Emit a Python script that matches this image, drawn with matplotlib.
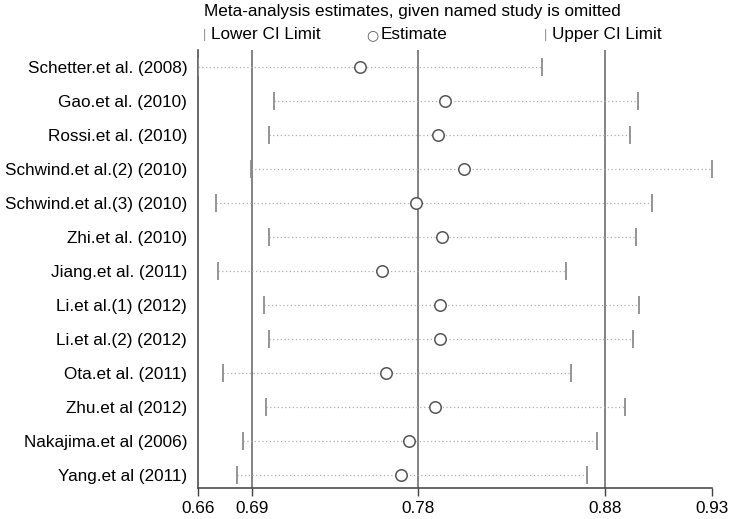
import matplotlib
matplotlib.use("Agg")
import matplotlib.pyplot as plt

plt.rcParams['font.family'] = ['Liberation Sans', 'DejaVu Sans']

# study omitted, pooled estimate and CI with that study left out
studies = ['Schetter.et al. (2008)', 'Gao.et al. (2010)', 'Rossi.et al. (2010)',
           'Schwind.et al.(2) (2010)', 'Schwind.et al.(3) (2010)', 'Zhi.et al. (2010)',
           'Jiang.et al. (2011)', 'Li.et al.(1) (2012)', 'Li.et al.(2) (2012)',
           'Ota.et al. (2011)', 'Zhu.et al (2012)', 'Nakajima.et al (2006)',
           'Yang.et al (2011)']
lower = [0.6570, 0.6979, 0.6949, 0.6853, 0.6664, 0.6953, 0.6676,
         0.6922, 0.6953, 0.6702, 0.6935, 0.6813, 0.6777]
estimate = [0.7438, 0.7896, 0.7861, 0.7998, 0.7742, 0.7879, 0.7557,
            0.7868, 0.7868, 0.7581, 0.7842, 0.7705, 0.7661]
upper = [0.8418, 0.8933, 0.8892, 0.9332, 0.9012, 0.8924, 0.8548,
         0.8942, 0.8907, 0.8577, 0.8864, 0.8713, 0.8663]

# overall estimate and CI (all studies)
overall = [0.6859, 0.7751, 0.8756]
tick_vals = [0.6570, 0.6859, 0.7751, 0.8756, 0.9332]
tick_labels = ['0.66', '0.69', '0.78', '0.88', '0.93']

fig = plt.figure(figsize=(7.38, 5.19), dpi=100)
ax = fig.add_axes([0.2687, 0.0592, 0.9644 - 0.2687, 0.9037 - 0.0592])

rows = list(range(1, len(studies) + 1))
grey = '#8c8c8c'
fs = 12.3

for v in overall:
    ax.axvline(v, color='#6e6e6e', lw=1.2, zorder=1)

for y, lo, est, up in zip(rows, lower, estimate, upper):
    ax.plot([lo, up], [y, y], color='#b0b0b0', lw=0.9, ls=(0, (1, 2)), zorder=2)
ax.scatter(lower, rows, marker='|', s=170, color=grey, lw=1.3, zorder=3)
ax.scatter(upper, rows, marker='|', s=170, color=grey, lw=1.3, zorder=3)
ax.scatter(estimate, rows, marker='o', s=68, facecolor='white',
           edgecolor='#555555', lw=1.1, zorder=4)

ax.set_xlim(tick_vals[0], tick_vals[-1])
ax.set_ylim(13.4, 0.49)
ax.set_xticks(tick_vals)
ax.set_xticklabels(tick_labels, fontsize=fs)
ax.set_yticks(rows)
ax.set_yticklabels(studies, fontsize=fs)
ax.tick_params(axis='y', length=0, pad=8)
ax.tick_params(axis='x', length=6, width=1, color='#404040', pad=3)
for s in ['top', 'right']:
    ax.spines[s].set_visible(False)
for s in ['left', 'bottom']:
    ax.spines[s].set_color('#404040')
    ax.spines[s].set_linewidth(1.1)

fig.text(0.276, 0.977, 'Meta-analysis estimates, given named study is omitted',
         fontsize=fs, va='center', ha='left')
fig.text(0.2745, 0.933, '|', fontsize=9, color=grey, va='center', ha='left')
fig.text(0.2855, 0.933, 'Lower CI Limit', fontsize=fs, va='center', ha='left')
fig.text(0.5047, 0.933, '○', fontsize=10, color='#555555', va='center', ha='center',
         family=['DejaVu Sans'])
fig.text(0.516, 0.933, 'Estimate', fontsize=fs, va='center', ha='left')
fig.text(0.7366, 0.933, '|', fontsize=9, color=grey, va='center', ha='left')
fig.text(0.7475, 0.933, 'Upper CI Limit', fontsize=fs, va='center', ha='left')

fig.savefig('out.png', dpi=100)
